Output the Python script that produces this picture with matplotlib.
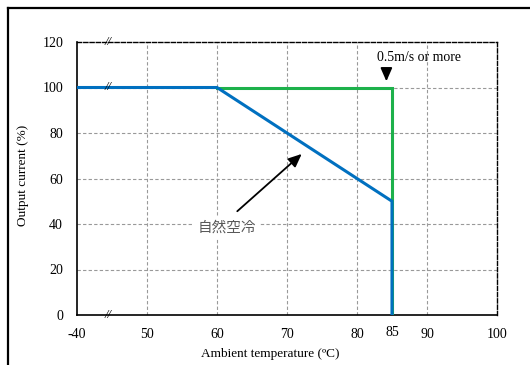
"""Derating curve: output current vs ambient temperature (broken x-axis at -40)."""
import matplotlib
matplotlib.use("Agg")
import matplotlib.pyplot as plt
from matplotlib.lines import Line2D

# -40 is drawn at position 40 (broken axis)
x_ticks = [40, 50, 60, 70, 80, 90, 100]
x_ticklabels = ["-40", "50", "60", "70", "80", "90", "100"]
y_ticks = [0, 20, 40, 60, 80, 100, 120]

natural_x = [40, 60, 85, 85]
natural_y = [100, 100, 50, 0]
forced_x = [60, 85, 85]
forced_y = [100, 100, 0]

BLUE = "#0070C0"
GREEN = "#1DB14B"
SERIF = ["Liberation Serif", "DejaVu Serif"]

fig = plt.figure(figsize=(5.3, 3.65), dpi=100)
ax = fig.add_axes([77 / 530, 1 - 315 / 365, 420 / 530, 273 / 365])

# grid drawn by hand so 85 gets a label but no line
for gx in [50, 60, 70, 80, 90]:
    ax.axvline(gx, color="#999999", lw=0.8, ls=(0, (3, 2)), zorder=1)
for gy in [20, 40, 60, 80, 100]:
    ax.axhline(gy, color="#999999", lw=0.8, ls=(0, (3, 2)), zorder=1)

ax.plot(forced_x, forced_y, color=GREEN, lw=2.2, zorder=3, solid_joinstyle="miter")
ax.plot(natural_x, natural_y, color=BLUE, lw=2.2, zorder=4, solid_joinstyle="miter")

ax.set_xlim(40, 100)
ax.set_ylim(0, 120)
ax.set_xticks(x_ticks)
ax.set_xticklabels(x_ticklabels)
ax.set_yticks(y_ticks)
ax.tick_params(axis="x", length=0, pad=9, labelsize=10)
ax.tick_params(axis="y", length=0, pad=10, labelsize=10)
for lbl in ax.get_xticklabels() + ax.get_yticklabels():
    lbl.set_fontfamily(SERIF)
ax.text(85, -5.0, "85", ha="center", va="top", fontsize=10, family=SERIF)

for side in ["left", "bottom"]:
    ax.spines[side].set_linewidth(1.2)
for side in ["top", "right"]:
    ax.spines[side].set_linestyle((0, (3, 1.5)))
    ax.spines[side].set_linewidth(1.0)

# axis break marks
for by in [0, 100, 120]:
    ax.text(44.4, by, "//", ha="center", va="center", fontsize=9,
            family=SERIF, style="italic", zorder=5, clip_on=False)

ax.annotate("", xy=(72.4, 71.6), xytext=(62.6, 44.8),
            arrowprops=dict(arrowstyle="-|>,head_length=0.8,head_width=0.35",
                            color="black", lw=1.3), zorder=6)
ax.text(61.4, 38.2, "自然空冷", ha="center", va="center", fontsize=10.5,
        color="#595959", family=["Noto Sans CJK JP", "DejaVu Sans"],
        bbox=dict(facecolor="white", edgecolor="none", pad=3), zorder=5)

ax.annotate("", xy=(84.2, 101.5), xytext=(84.2, 107.5),
            arrowprops=dict(arrowstyle="-|>,head_length=0.8,head_width=0.35",
                            color="black", lw=1.3), zorder=6)
ax.text(88.9, 113.4, "0.5m/s or more", ha="center", va="center",
        fontsize=10, family=SERIF, zorder=5)

fig.text(270 / 530, 1 - 354 / 365, "Ambient temperature (ºC)", ha="center",
         va="center", fontsize=9.5, family=SERIF)
fig.text(23 / 530, 1 - 175 / 365, "Output current (%)", ha="center",
         va="center", rotation=90, fontsize=9.5, family=SERIF)

# frame of the surrounding table cell
fig.add_artist(Line2D([8 / 530, 8 / 530], [0, 1 - 8 / 365], color="black",
                      lw=1.6, transform=fig.transFigure))
fig.add_artist(Line2D([8 / 530, 1], [1 - 8 / 365, 1 - 8 / 365], color="black",
                      lw=1.6, transform=fig.transFigure))

fig.savefig("out.png", dpi=100)
